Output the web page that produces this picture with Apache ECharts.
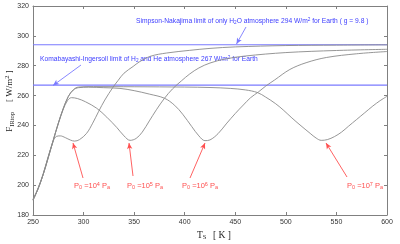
<!DOCTYPE html>
<html><head><meta charset="utf-8">
<script src="https://cdn.jsdelivr.net/npm/echarts@6/dist/echarts.min.js"></script>
<style>html,body{margin:0;padding:0;background:#fff}#c{width:400px;height:244px}</style>
</head><body><div id="c"></div>
<script>
// Axis ranges
const xRange = [250, 600, 50];
const yRange = [180, 320, 20];
// Limits (W/m^2)
const limitNames = ['Simpson-Nakajima', 'Komabayashi-Ingersoll'];
const limits = [294, 267];
// Surface pressure exponents (P0 = 10^n Pa)
const pExp = [4, 5, 6, 7];
// Curves: T_s (K) and F_IRtop (W/m^2)
const t4 = [250,255,260,265,270,273,277,282,287,291,296,303,309,315,321,329,334,340,349,355,366,382,405,425,450,500,550,600];
const f4 = [190.5,198,207.5,219,229.5,232.6,233,231.8,230.2,229.5,230.5,234.7,241.5,249.5,257,265.5,270,275,279.5,282.5,286.3,288.5,290.3,291.6,292.6,293.5,293.8,294];
const t5 = [250,255,260,265,270,275,280,284,288,294,302,313,323,333,340,346,352,358,365,372,380,388,397,405,414,425,440,460,500,550,600];
const f5 = [190,197.5,207,218,230,241,251,256.5,258.6,258,255.8,251.5,245.5,238.5,233,230,231.3,235.5,243,250.5,258.2,264.5,270,274.5,278.5,281.8,284.5,286.5,288.8,290.2,291];
const t6 = [250,255,260,265,270,275,280,285,290,295,305,320,336,350,365,380,390,398,407,414,420,425,433,441,450,458,465,473,480,489,504,520,540,570,600];
const f6 = [190,197.5,207,218.5,230,241.5,251.5,259.5,263.8,265.3,265.6,265.3,264.8,263.3,261,258.2,253.5,247.5,239.2,233,229.8,230.3,234.5,241,248,253.7,258.5,262.5,266.3,270.5,277.5,282,285.5,288,289.5];
const t7 = [250,255,260,265,270,275,280,285,290,295,310,350,400,425,445,460,472,480,490,498,506,514,524,530,535,541,548,555,562,570,578,586,593,600];
const f7 = [190,197.5,207,218.5,230,241.5,251.5,259.5,264,265.7,266,265.9,265.7,265.4,264.8,263.8,262,259,254.5,250,245,240.3,234.7,231.5,230,230.5,232.5,235.5,239.5,244,248.5,253,256.5,259.5];
const curveT = [t4, t5, t6, t7];
const curveF = [f4, f5, f6, f7];

const sans = 'Liberation Sans, Arial, sans-serif';
const serif = 'Liberation Serif, Times New Roman, serif';
const blueTxt = '#3c3cff', redTxt = '#ff5050', blueLine = '#7a7aff', grey = '#8a8a8a';

const richSmall = (color, fs) => ({
  s: {fontSize: fs - 2, fontFamily: sans, fill: color, verticalAlign: 'bottom', padding: [3, 0, 0, 0]},
  p: {fontSize: fs - 2, fontFamily: sans, fill: color, verticalAlign: 'top', padding: [0, 0, 3, 0]}
});

const series = curveT.map((ts, i) => ({
  type: 'line', name: 'P0=1e' + pExp[i], showSymbol: false, smooth: 0.35,
  lineStyle: {color: grey, width: 0.9}, data: ts.map((t, j) => [t, curveF[i][j]]), z: 3
}));
limits.forEach((v, i) => series.push({
  type: 'line', showSymbol: false, lineStyle: {color: blueLine, width: 1.1}, z: 2,
  data: [[xRange[0], v], [xRange[1], v]]
}));
// annotation arrows
const arrows = [
  {c: blueLine, p: [[246, 27], [236.5, 44]]},
  {c: blueLine, p: [[81, 65], [53, 85.5]]},
  {c: redTxt, p: [[83, 178], [73, 143]]},
  {c: redTxt, p: [[133, 176], [129, 143]]},
  {c: redTxt, p: [[190, 178], [205, 143]]},
  {c: redTxt, p: [[347, 177], [326, 143]]}
];
series.push({
  type: 'line', data: [], silent: true,
  markLine: {silent: true, animation: false, symbolSize: [4, 6], label: {show: false},
    data: arrows.map(a => [{x: a.p[0][0], y: a.p[0][1], symbol: 'none', lineStyle: {color: a.c, width: 0.9, type: 'solid'}},
                           {x: a.p[1][0], y: a.p[1][1], symbol: 'arrow', lineStyle: {color: a.c, width: 0.9, type: 'solid'}}])}
});

const graphic = [
  {type: 'text', left: 136, top: 17, style: {
    text: limitNames[0] + ' limit of only H{s|2}O atmosphere ' + limits[0] + ' W/m{p|2} for Earth ( g = 9.8 )',
    fontSize: 6.7, fontFamily: sans, fill: blueTxt, rich: richSmall(blueTxt, 6.7)}},
  {type: 'text', left: 40, top: 55, style: {
    text: limitNames[1] + ' limit of H{s|2} and He atmosphere ' + limits[1] + ' W/m{p|2} for Earth',
    fontSize: 6.7, fontFamily: sans, fill: blueTxt, rich: richSmall(blueTxt, 6.7)}}
];
const pLabelX = [74, 127, 182, 347];
pExp.forEach((e, i) => graphic.push({type: 'text', left: pLabelX[i], top: 181, style: {
  text: 'P{s|0} =10{p|' + e + '} P{s|a}', fontSize: 7.5, fontFamily: sans, fill: redTxt, rich: richSmall(redTxt, 7.5)}}));
// axis names
graphic.push({type: 'text', x: 10, y: 101, rotation: Math.PI / 2, style: {
  text: '{f|F}{s|IRtop}   {f|[ W/m}{p|2}{f| ]}', align: 'center', verticalAlign: 'middle',
  rich: {f: {fontSize: 9, fontFamily: serif, fill: '#222'},
         s: {fontSize: 6.5, fontFamily: serif, fill: '#222', verticalAlign: 'bottom', padding: [4, 0, 0, 0]},
         p: {fontSize: 6.5, fontFamily: serif, fill: '#222', verticalAlign: 'top', padding: [0, 0, 4, 0]}}}});
graphic.push({type: 'text', left: 197, top: 229, style: {
  text: '{f|T}{s|S}  {f|[ K ]}',
  rich: {f: {fontSize: 9.5, fontFamily: serif, fill: '#222'},
         s: {fontSize: 6.5, fontFamily: serif, fill: '#222', verticalAlign: 'bottom', padding: [4, 0, 0, 0]}}}});

const axisLine = {show: true, lineStyle: {color: '#808080', width: 1}};
const tick = {show: true, inside: true, length: 3, lineStyle: {color: '#808080'}};
const label = {fontSize: 7, fontFamily: sans, color: '#333'};
const option = {
  animation: false,
  grid: {left: 33, right: 13, top: 6, bottom: 29},
  xAxis: [
    {type: 'value', min: xRange[0], max: xRange[1], interval: xRange[2], axisLine, axisTick: tick, splitLine: {show: false}, axisLabel: Object.assign({margin: 4}, label)},
    {type: 'value', position: 'top', min: xRange[0], max: xRange[1], interval: xRange[2], axisLine, axisTick: tick, splitLine: {show: false}, axisLabel: {show: false}}
  ],
  yAxis: [
    {type: 'value', min: yRange[0], max: yRange[1], interval: yRange[2], axisLine, axisTick: tick, splitLine: {show: false}, axisLabel: Object.assign({margin: 4}, label)},
    {type: 'value', position: 'right', min: yRange[0], max: yRange[1], interval: yRange[2], axisLine, axisTick: tick, splitLine: {show: false}, axisLabel: {show: false}}
  ],
  series, graphic
};
echarts.init(document.getElementById('c'), null, {renderer: 'canvas'}).setOption(option);
</script></body></html>
